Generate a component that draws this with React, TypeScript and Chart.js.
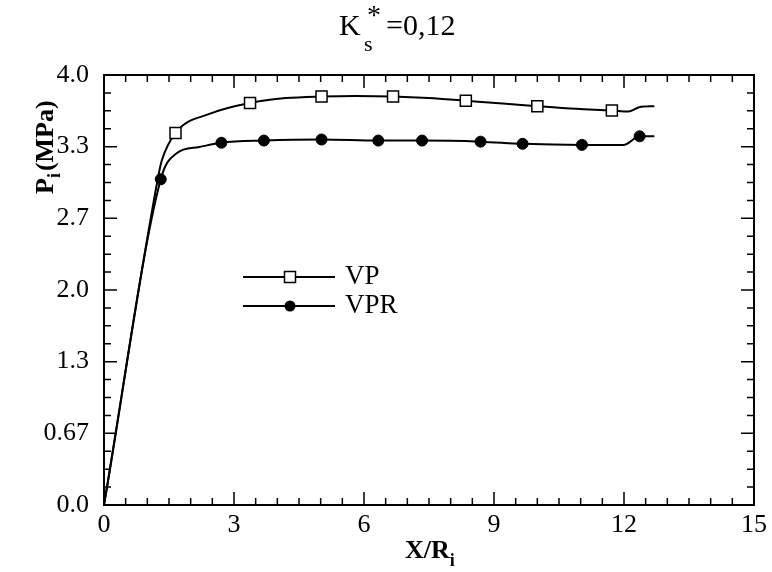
import React, { useEffect, useRef } from 'react';
import { Chart, registerables } from 'chart.js';

Chart.register(...registerables);

const SERIF = '"Liberation Serif", "Times New Roman", serif';

const xTickValues = [0, 3, 6, 9, 12, 15];
const yTickValues = [0, 4 / 6, 8 / 6, 2, 16 / 6, 20 / 6, 4];
const yTickLabels = ['0.0', '0.67', '1.3', '2.0', '2.7', '3.3', '4.0'];

const vpX = [0, 1.24, 1.33, 1.65, 2.45, 3.37, 4.2, 5.02, 5.8, 6.67, 7.5, 8.35, 9.2, 10.0, 10.9, 11.72, 12.1, 12.35, 12.7];
const vpY = [0, 3.03, 3.2, 3.46, 3.64, 3.74, 3.785, 3.8, 3.805, 3.8, 3.785, 3.76, 3.735, 3.71, 3.685, 3.67, 3.66, 3.7, 3.71];
const vpMarker = [0, 0, 0, 1, 0, 1, 0, 1, 0, 1, 0, 1, 0, 1, 0, 1, 0, 0, 0];

const vprX = [0, 1.31, 1.67, 2.2, 2.71, 3.69, 5.02, 6.33, 7.34, 8.69, 9.66, 11.03, 12.0, 12.36, 12.7];
const vprY = [0, 3.03, 3.27, 3.33, 3.37, 3.39, 3.4, 3.39, 3.39, 3.38, 3.36, 3.35, 3.35, 3.43, 3.43];
const vprMarker = [0, 1, 0, 0, 1, 1, 1, 1, 1, 1, 1, 1, 0, 1, 0];

type Run = { t: string; font: string; dx?: number; dy?: number };

function drawRuns(ctx: CanvasRenderingContext2D, runs: Run[], x: number, y: number) {
  let cx = x;
  for (const r of runs) {
    ctx.font = r.font;
    cx += r.dx || 0;
    ctx.fillText(r.t, cx, y + (r.dy || 0));
    cx += ctx.measureText(r.t).width;
  }
}

const decorPlugin = {
  id: 'decor',
  afterDraw(chart: any) {
    const { ctx, chartArea } = chart;
    const { left, right, top, bottom } = chartArea;
    const xs = chart.scales.x;
    const ys = chart.scales.y;
    ctx.save();
    ctx.strokeStyle = '#000';
    ctx.fillStyle = '#000';
    ctx.lineWidth = 2;
    ctx.strokeRect(left, top, right - left, bottom - top);

    ctx.lineWidth = 1.5;
    ctx.beginPath();
    for (let i = 0; i <= 30; i++) {
      const v = i * 0.5;
      const px = xs.getPixelForValue(v);
      const len = i % 6 === 0 ? 13 : 7;
      ctx.moveTo(px, bottom);
      ctx.lineTo(px, bottom - len);
      ctx.moveTo(px, top);
      ctx.lineTo(px, top + len);
    }
    for (let i = 0; i <= 24; i++) {
      const v = (i * 4) / 24;
      const py = ys.getPixelForValue(v);
      const len = i % 4 === 0 ? 13 : 7;
      ctx.moveTo(left, py);
      ctx.lineTo(left + len, py);
      ctx.moveTo(right, py);
      ctx.lineTo(right - len, py);
    }
    ctx.stroke();

    // legend
    const legend = [
      { label: chart.data.datasets[0].label, y: 277, style: 'rect' },
      { label: chart.data.datasets[1].label, y: 306, style: 'circle' },
    ];
    for (const item of legend) {
      ctx.lineWidth = 2;
      ctx.beginPath();
      ctx.moveTo(243, item.y);
      ctx.lineTo(335, item.y);
      ctx.stroke();
      ctx.lineWidth = 1.5;
      if (item.style === 'rect') {
        ctx.fillStyle = '#fff';
        ctx.fillRect(284.5, item.y - 5.5, 11, 11);
        ctx.strokeRect(284.5, item.y - 5.5, 11, 11);
      } else {
        ctx.fillStyle = '#000';
        ctx.beginPath();
        ctx.arc(290, item.y, 5.5, 0, Math.PI * 2);
        ctx.fill();
      }
      ctx.fillStyle = '#000';
      ctx.textBaseline = 'alphabetic';
      ctx.textAlign = 'left';
      ctx.font = `27px ${SERIF}`;
      ctx.fillText(item.label, 345, item.y + 7);
    }

    // title
    ctx.textAlign = 'left';
    ctx.textBaseline = 'alphabetic';
    ctx.font = `30px ${SERIF}`;
    ctx.fillText('K', 339, 35);
    ctx.font = `22px ${SERIF}`;
    ctx.fillText('s', 364, 51);
    ctx.font = `28px ${SERIF}`;
    ctx.fillText('*', 367, 24);
    ctx.font = `30px ${SERIF}`;
    ctx.fillText('=0,12', 386, 35);

    // x axis title
    drawRuns(
      ctx,
      [
        { t: 'X/R', font: `bold 26px ${SERIF}` },
        { t: 'i', font: `bold 18px ${SERIF}`, dy: 8 },
      ],
      405,
      558
    );

    // y axis title
    ctx.save();
    ctx.translate(53, 194);
    ctx.rotate(-Math.PI / 2);
    drawRuns(
      ctx,
      [
        { t: 'P', font: `bold 26px ${SERIF}` },
        { t: 'i', font: `bold 18px ${SERIF}`, dy: 7 },
        { t: '(MPa)', font: `bold 26px ${SERIF}`, dx: 2 },
      ],
      0,
      0
    );
    ctx.restore();
    ctx.restore();
  },
};

export default function App() {
  const ref = useRef<HTMLCanvasElement | null>(null);
  useEffect(() => {
    if (!ref.current) return;
    const chart = new Chart(ref.current, {
      type: 'line',
      data: {
        datasets: [
          {
            label: 'VP',
            data: vpX.map((x, i) => ({ x, y: vpY[i] })),
            borderColor: '#000',
            borderWidth: 2,
            backgroundColor: '#fff',
            pointBackgroundColor: '#fff',
            pointBorderColor: '#000',
            pointBorderWidth: 1.5,
            pointStyle: 'rect',
            pointRadius: vpMarker.map((m) => (m ? 7.8 : 0)),
            cubicInterpolationMode: 'monotone',
            fill: false,
          },
          {
            label: 'VPR',
            data: vprX.map((x, i) => ({ x, y: vprY[i] })),
            borderColor: '#000',
            borderWidth: 2,
            backgroundColor: '#000',
            pointBackgroundColor: '#000',
            pointBorderColor: '#000',
            pointBorderWidth: 1,
            pointStyle: 'circle',
            pointRadius: vprMarker.map((m) => (m ? 5.5 : 0)),
            cubicInterpolationMode: 'monotone',
            fill: false,
          },
        ],
      },
      options: {
        responsive: false,
        animation: false,
        layout: { padding: { left: 0, top: 75, right: 14, bottom: 0 } },
        plugins: { legend: { display: false }, tooltip: { enabled: false }, title: { display: false } },
        scales: {
          x: {
            type: 'linear',
            min: 0,
            max: 15,
            afterBuildTicks: (s: any) => {
              s.ticks = xTickValues.map((v) => ({ value: v }));
            },
            afterFit: (s: any) => {
              s.height = 67;
            },
            grid: { display: false, drawTicks: false },
            border: { display: false },
            ticks: {
              autoSkip: false,
              maxRotation: 0,
              padding: 5,
              color: '#000',
              font: { family: SERIF, size: 26 },
              callback: (v: any) => String(v),
            },
          },
          y: {
            type: 'linear',
            min: 0,
            max: 4,
            afterBuildTicks: (s: any) => {
              s.ticks = yTickValues.map((v) => ({ value: v }));
            },
            afterFit: (s: any) => {
              s.width = 104;
            },
            grid: { display: false, drawTicks: false },
            border: { display: false },
            ticks: {
              autoSkip: false,
              padding: 15,
              color: '#000',
              font: { family: SERIF, size: 26 },
              callback: (_v: any, i: number) => yTickLabels[i],
            },
          },
        },
      },
      plugins: [decorPlugin],
    } as any);
    return () => chart.destroy();
  }, []);
  return (
    <div style={{ position: 'absolute', left: 0, top: 0, width: 772, height: 572, background: '#fff' }}>
      <canvas ref={ref} width={772} height={572} style={{ display: 'block' }} />
    </div>
  );
}
